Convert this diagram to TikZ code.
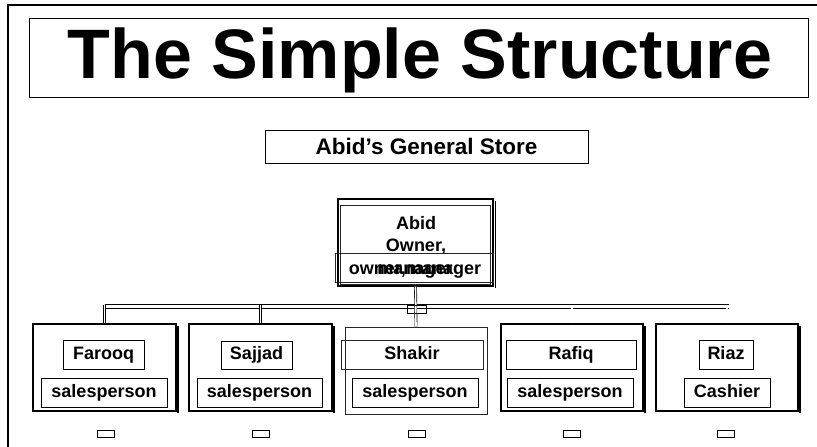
\documentclass[tikz,border=0pt]{standalone}
\usepackage{fontspec}
\setmainfont{Liberation Sans}
\begin{document}
\begin{tikzpicture}[x=1pt,y=-1pt,
  frame/.style={line width=1.6pt},
  outerbox/.style={draw=black,line width=1.1pt,inner sep=0pt},
  thinbox/.style={draw=black!85,line width=0.6pt,inner sep=0pt},
  lbl/.style={draw=black,line width=0.8pt,inner sep=0pt,text height=13pt,text depth=3.5pt,
    font=\fontsize{18}{20}\selectfont\bfseries},
  txt/.style={inner sep=0pt,font=\fontsize{18}{20}\selectfont\bfseries},
  shadowline/.style={line width=1.5pt},
  bus/.style={draw=black,line width=0.8pt,double,double distance=3.6pt},
  drop/.style={draw=black,line width=0.6pt,double,double distance=1.6pt},
  mark box/.style={draw=black,line width=0.9pt,minimum width=17pt,minimum height=7pt,inner sep=0pt}]
\useasboundingbox (0,0) rectangle (817,447);
% outer frame
\draw[frame] (8,447) -- (8,5) -- (817,5);
% title
\node[draw=black,line width=0.8pt,minimum width=779pt,minimum height=79pt,inner sep=0pt] (titlebox) at (418.5,57.5) {};
\node[anchor=base,inner sep=0pt,font=\fontsize{70}{72}\selectfont\bfseries] (title) at (420,78) {The Simple Structure};
% store
\node[draw=black,line width=0.9pt,minimum width=323pt,minimum height=33pt,inner sep=0pt,
  font=\fontsize{22.5}{24}\selectfont\bfseries] (store) at (426.5,146.5) {Abid’s General Store};
% Abid box
\node[outerbox,minimum width=155pt,minimum height=87pt] (abid) at (415.5,242.5) {};
\node[thinbox,minimum width=150pt,minimum height=79pt] (abidin) at (415,244.5) {};
\draw[shadowline] (abid.north east) ++(2,3) -- ++(0,87);
\node[thinbox,minimum width=158pt,minimum height=29pt] (ownerbox) at (414,267.5) {};
\node[txt,anchor=base] (abidname) at (416,229.5) {Abid};
\node[txt,anchor=base] (abidrole) at (416,251.5) {Owner,};
\node[txt,anchor=base] (abidrole2) at (415,274) {manager};
\node[txt,anchor=base] (abidrole3) at (415,274) {owner,manager};
% bottom boxes
\node[outerbox,minimum width=143pt,minimum height=87pt] (farooq) at (104.5,367.5) {};
\node[outerbox,minimum width=143pt,minimum height=87pt] (sajjad) at (260.5,367.5) {};
\node[thinbox,line width=0.8pt,minimum width=142pt,minimum height=87pt] (shakir) at (416,370.5) {};
\node[outerbox,minimum width=142pt,minimum height=87pt] (rafiq) at (572,367.5) {};
\node[outerbox,minimum width=142pt,minimum height=87pt] (riaz) at (727,367.5) {};
\foreach \b in {farooq,sajjad,rafiq,riaz}{
  \draw[shadowline] (\b.north east) ++(1.5,3) -- ++(0,87);
}
% labels
\node[lbl,minimum width=81pt,minimum height=29pt] (farooqname) at (103.5,354.5) {Farooq};
\node[lbl,minimum width=126pt,minimum height=29pt] (farooqrole) at (104,392.5) {salesperson};
\node[lbl,minimum width=71pt,minimum height=28pt] (sajjadname) at (256.5,355) {Sajjad};
\node[lbl,minimum width=125pt,minimum height=29pt] (sajjadrole) at (259.5,392.5) {salesperson};
\node[lbl,thinbox,text height=13pt,text depth=3.5pt,minimum width=142pt,minimum height=29pt] (shakirname) at (412,354.5) {Shakir};
\node[lbl,minimum width=126pt,minimum height=29pt] (shakirrole) at (415,392.5) {salesperson};
\node[lbl,minimum width=130pt,minimum height=29pt] (rafiqname) at (571,354.5) {Rafiq};
\node[lbl,minimum width=126pt,minimum height=29pt] (rafiqrole) at (570,392.5) {salesperson};
\node[lbl,minimum width=54pt,minimum height=29pt] (riazname) at (726,354.5) {Riaz};
\node[lbl,minimum width=86pt,minimum height=29pt] (riazrole) at (727,392.5) {Cashier};
% connectors
\coordinate (busL) at (104.5,306.5);
\coordinate (busR) at (729,306.5);
\draw[bus] (busL) -- (busR);
\foreach \b in {farooq,sajjad,rafiq,riaz}{
  \draw[drop] (\b.north) -- (\b.north |- 0,304.5);
}
\draw[drop] (abid.south) -- (shakir.north);
\node[draw=black,line width=0.8pt,minimum width=19pt,minimum height=8pt,inner sep=0pt] (hub) at (416.5,309) {};
% small marks
\node[mark box] (m1) at (105.5,434) {};
\node[mark box] (m2) at (261,434) {};
\node[mark box] (m3) at (416.5,434) {};
\node[mark box] (m4) at (572,434) {};
\node[mark box] (m5) at (726,434) {};
\end{tikzpicture}
\end{document}
